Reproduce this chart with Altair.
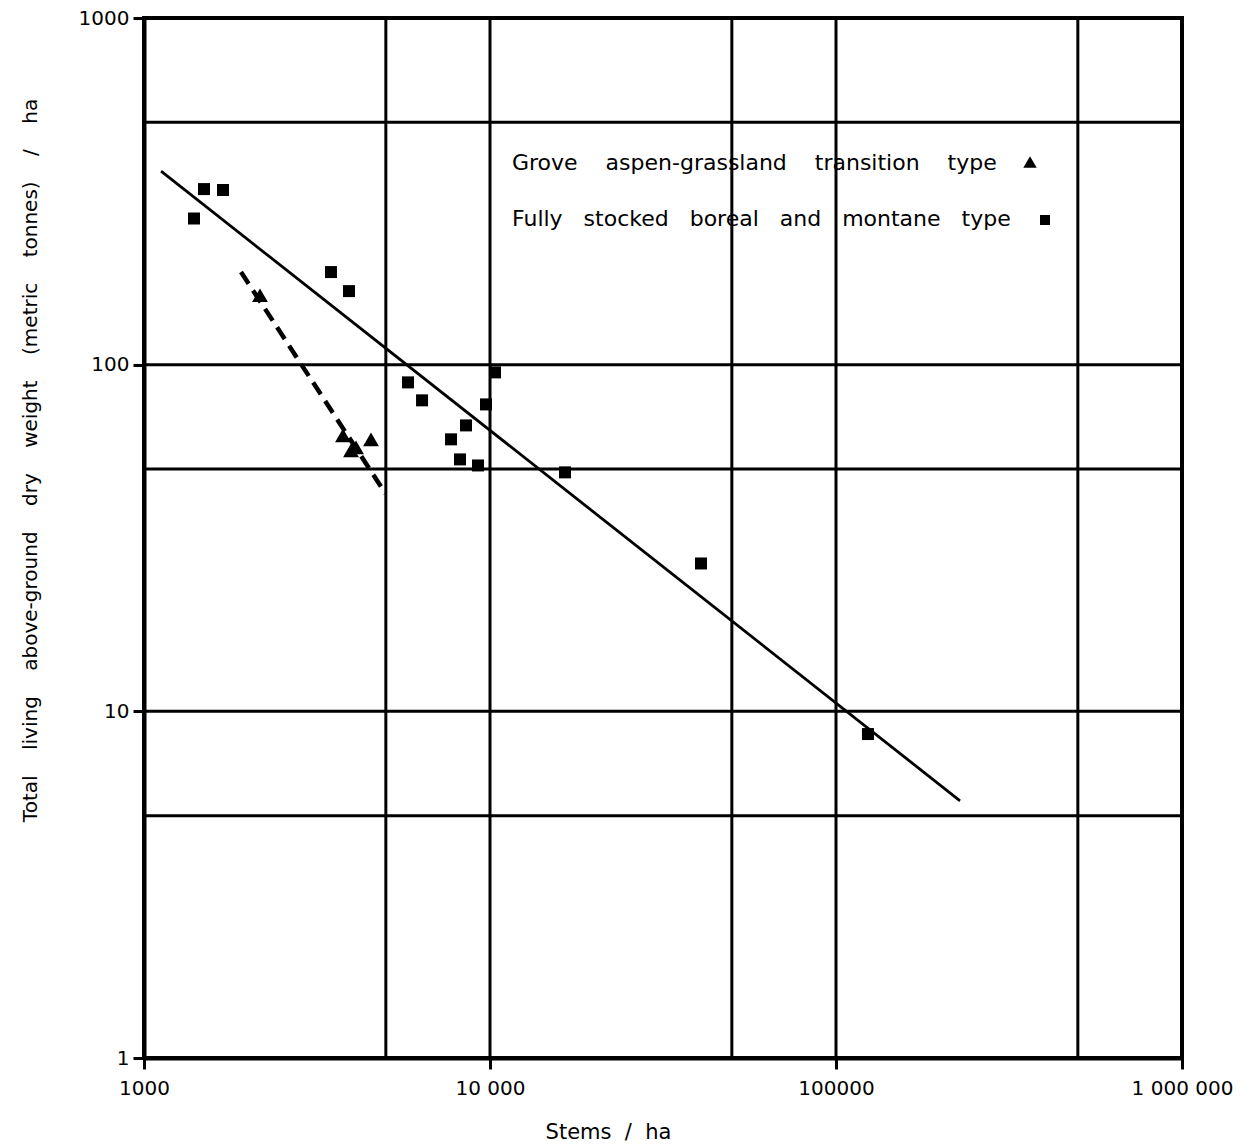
import altair as alt
import pandas as pd

FONT = "DejaVu Sans"
NB = "\u00a0"

# Fully stocked boreal and montane type (squares)
SQ_STEMS = [1395, 1491, 1692, 3471, 3913, 5794, 6362, 7716, 8524, 8189, 9232, 9737, 10339, 16474, 40720, 123700]
SQ_WEIGHT = [264, 321, 319, 185, 163, 88.9, 78.9, 60.9, 66.8, 53.3, 51.2, 76.8, 95.0, 48.9, 26.7, 8.6]

# Grove aspen-grassland transition type (triangles)
TRI_STEMS = [2164, 3759, 3965, 4100, 4530]
TRI_WEIGHT = [158.6, 62.5, 56.6, 57.7, 60.9]

# Fitted lines (end points)
SOLID_STEMS = [1120, 228300]
SOLID_WEIGHT = [361.6, 5.52]
DASH_STEMS = [1907, 4990]
DASH_WEIGHT = [185, 42.5]

X_TICKS = [1000, 10000, 100000, 1000000]
Y_TICKS = [1, 10, 100, 1000]
GRID_X = [5000, 10000, 50000, 100000, 500000]
GRID_Y = [5, 10, 50, 100, 500]

LEGEND_1 = (NB * 4).join(["Grove", "aspen-grassland", "transition", "type"])
LEGEND_2 = (NB * 3).join(["Fully", "stocked", "boreal", "and", "montane", "type"])
Y_TITLE = (NB * 4).join(["Total", "living", "above-ground", "dry", "weight", "(metric", "tonnes)", "/", "ha"])
X_TITLE = (NB * 2).join(["Stems", "/", "ha"])

xscale = alt.Scale(type="log", domain=[1000, 1000000], nice=False)
yscale = alt.Scale(type="log", domain=[1, 1000], nice=False)

xaxis = alt.Axis(
    values=X_TICKS,
    labelExpr="datum.value == 10000 ? '10 000' : datum.value == 1000000 ? '1 000 000' : format(datum.value, 'd')",
    grid=False, tickSize=11, tickWidth=3, tickColor="black",
    domainWidth=4, domainColor="black",
    labelFont=FONT, labelFontSize=20, labelColor="black", labelPadding=9,
    labelFlush=False, labelOverlap=False,
    titleFont=FONT, titleFontSize=21, titleFontWeight="normal", titleColor="black",
    titleX=464, titleY=74, titleAlign="center", titleBaseline="middle", titleAnchor="start",
)
yaxis = alt.Axis(
    values=Y_TICKS, format="d",
    grid=False, tickSize=11, tickWidth=3, tickColor="black",
    domainWidth=4, domainColor="black",
    labelFont=FONT, labelFontSize=20, labelColor="black", labelPadding=4,
    labelFlush=False, labelOverlap=False,
    titleFont=FONT, titleFontSize=20, titleFontWeight="normal", titleColor="black",
    titleX=-114, titleY=442, titleAlign="center", titleBaseline="middle", titleAnchor="start",
    titleAngle=270,
)

X = alt.X("stems:Q", scale=xscale, axis=xaxis, title=X_TITLE)
Y = alt.Y("weight:Q", scale=yscale, axis=yaxis, title=Y_TITLE)

sq = pd.DataFrame({"stems": SQ_STEMS, "weight": SQ_WEIGHT})
tri = pd.DataFrame({"stems": TRI_STEMS, "weight": TRI_WEIGHT})
solid = pd.DataFrame({"stems": SOLID_STEMS, "weight": SOLID_WEIGHT})
dash = pd.DataFrame({"stems": DASH_STEMS, "weight": DASH_WEIGHT})
gx = pd.DataFrame({"stems": GRID_X})
gy = pd.DataFrame({"weight": GRID_Y})
one = pd.DataFrame({"k": [0]})

grid_v = alt.Chart(gx).mark_rule(color="black", strokeWidth=3).encode(x=X)
grid_h = alt.Chart(gy).mark_rule(color="black", strokeWidth=3).encode(y=Y)

solid_line = alt.Chart(solid).mark_line(color="black", strokeWidth=2.8).encode(x=X, y=Y)
dash_line = alt.Chart(dash).mark_line(color="black", strokeWidth=4.5, strokeDash=[14, 8]).encode(x=X, y=Y)

squares = alt.Chart(sq).mark_point(shape="square", filled=True, color="black", opacity=1, size=144).encode(x=X, y=Y)
triangles = alt.Chart(tri).mark_point(shape="triangle-up", filled=True, color="black", opacity=1, size=250).encode(x=X, y=Y)

leg_text1 = alt.Chart(one).mark_text(align="left", baseline="alphabetic", font=FONT, fontSize=22, color="black").encode(
    x=alt.value(368), y=alt.value(152), text=alt.value(LEGEND_1))
leg_text2 = alt.Chart(one).mark_text(align="left", baseline="alphabetic", font=FONT, fontSize=22, color="black").encode(
    x=alt.value(368), y=alt.value(208), text=alt.value(LEGEND_2))
leg_tri = alt.Chart(one).mark_point(shape="triangle-up", filled=True, color="black", opacity=1, size=180).encode(
    x=alt.value(886), y=alt.value(144))
leg_sq = alt.Chart(one).mark_point(shape="square", filled=True, color="black", opacity=1, size=100).encode(
    x=alt.value(901), y=alt.value(202))

chart = alt.layer(
    grid_v, grid_h, solid_line, dash_line, squares, triangles,
    leg_text1, leg_text2, leg_tri, leg_sq,
).properties(
    width=1038, height=1040,
    padding={"left": 144, "top": 18, "right": 76, "bottom": 89},
    autosize=alt.AutoSizeParams(type="none"),
    background="white",
).configure_view(stroke="black", strokeWidth=4)

chart.save("out.html", embed_options={"renderer": "svg", "actions": False})
